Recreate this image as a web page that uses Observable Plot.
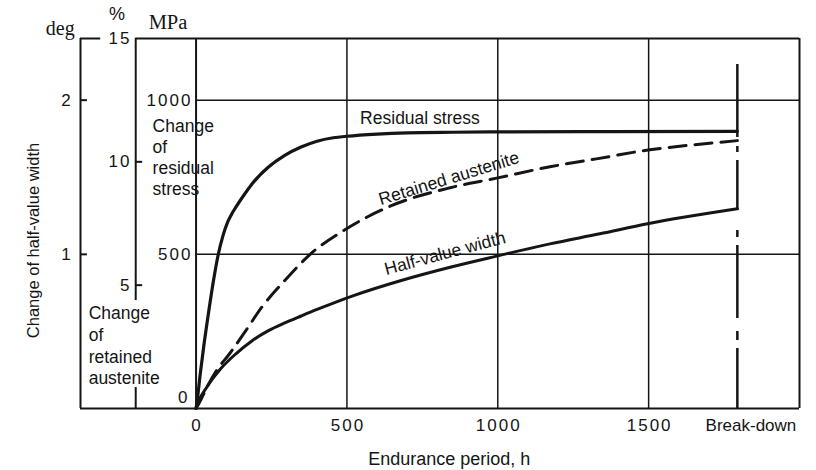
<!DOCTYPE html>
<html>
<head>
<meta charset="utf-8">
<script src="https://cdn.jsdelivr.net/npm/d3@7"></script>
<script src="https://cdn.jsdelivr.net/npm/@observablehq/plot@0.6"></script>
<style>
  html, body { margin: 0; padding: 0; background: #fff; }
  #chart svg { display: block; }
  svg g[aria-description="num-tick"] text { letter-spacing: 2px; }
</style>
</head>
<body>
<div id="chart"></div>
<script>
// ---------- data ----------
// Residual stress, MPa
const residualHours = [0, 5, 14, 25, 41, 57, 73, 89, 105, 120, 132, 160, 186, 240, 294, 348, 401, 455, 500, 600, 700, 850, 1000, 1300, 1794];
const residualMPa   = [0, 36, 113, 198, 308, 410, 497, 560, 605, 634, 653, 694, 729, 783, 821, 848, 867, 878, 883, 890, 894, 896, 897, 898, 899];

// Retained austenite, %
const austeniteHours = [0, 9, 36, 68, 111, 165, 218, 294, 380, 487, 643, 842, 1000, 1173, 1327, 1504, 1625, 1794];
const austenitePct   = [0, 0.19, 0.86, 1.54, 2.22, 3.16, 4.11, 5.19, 6.27, 7.2, 8.2, 8.95, 9.35, 9.8, 10.12, 10.49, 10.66, 10.86];

// Half-value width, deg
const halfHours = [0, 3, 36, 78, 132, 186, 240, 294, 348, 401, 455, 522, 680, 842, 1000, 1173, 1338, 1496, 1794];
const halfDeg   = [0, 0.02, 0.14, 0.25, 0.355, 0.44, 0.505, 0.555, 0.60, 0.643, 0.684, 0.732, 0.83, 0.916, 0.99, 1.068, 1.133, 1.198, 1.295];

// axes / ticks
const xTicks = [0, 500, 1000, 1500];
const breakdownHour = 1794;
const breakdownLabel = "Break-down";
const mpaTicks = [500, 1000];
const pctTicks = [5, 10, 15];
const degTicks = [1, 2];

// ---------- tables ----------
const residual  = residualHours.map((h, i) => ({h, v: residualMPa[i]}));
const austenite = austeniteHours.map((h, i) => ({h, v: austenitePct[i]}));
const halfWidth = halfHours.map((h, i) => ({h, v: halfDeg[i]}));

// secondary y axes expressed on the primary (MPa) scale
const pctToMPa = d3.scaleLinear().domain([0, 15]).range([0, 1200]);
const degToMPa = d3.scaleLinear().domain([0, 2.4]).range([0, 1200]);

const SANS = "'Liberation Sans', Arial, Helvetica, sans-serif";
const SERIF = "'Liberation Serif', 'Times New Roman', serif";
const INK = "#151515";

const X_LEFT = -383, X_RIGHT = 2000, X_PCT = -200;

const chart = Plot.plot({
  width: 816,
  height: 470,
  marginLeft: 80,
  marginRight: 17,
  marginTop: 38,
  marginBottom: 62,
  style: {background: "#fff", fontFamily: SANS, color: INK, overflow: "visible"},
  x: {domain: [X_LEFT, X_RIGHT], axis: null},
  y: {domain: [0, 1200], axis: null},
  marks: [
    // grid
    Plot.ruleX(xTicks.filter(d => d > 0), {y1: 0, y2: 1200, stroke: INK, strokeWidth: 1.5}),
    Plot.ruleY(mpaTicks, {x1: 0, x2: X_RIGHT, stroke: INK, strokeWidth: 1.5}),
    // MPa axis (x = 0)
    Plot.ruleX([0], {y1: 0, y2: 1200, stroke: INK, strokeWidth: 2}),
    // frame
    Plot.ruleX([X_RIGHT], {y1: 0, y2: 1200, stroke: INK, strokeWidth: 2}),
    Plot.ruleX([X_LEFT], {y1: 0, y2: 1200, stroke: INK, strokeWidth: 2}),
    Plot.ruleY([0], {x1: X_LEFT, x2: X_RIGHT, stroke: INK, strokeWidth: 2}),
    Plot.ruleY([1200], {x1: X_PCT, x2: X_RIGHT, stroke: INK, strokeWidth: 2}),
    Plot.ruleY([1200], {x1: X_LEFT, x2: -316, stroke: INK, strokeWidth: 2}),
    // % axis (broken for its label)
    Plot.ruleX([X_PCT], {y1: 350, y2: 1200, stroke: INK, strokeWidth: 2}),
    Plot.ruleX([X_PCT], {y1: 0, y2: 68, stroke: INK, strokeWidth: 2}),
    Plot.ruleY(pctTicks.filter(d => d < 15).map(pctToMPa), {x1: X_PCT, x2: -177, stroke: INK, strokeWidth: 2}),
    // deg axis ticks
    Plot.ruleY(degTicks.map(degToMPa), {x1: X_LEFT, x2: -360, stroke: INK, strokeWidth: 2}),

    // break-down line (dash-dot)
    Plot.ruleX([breakdownHour], {y1: 0, y2: 1116, stroke: INK, strokeWidth: 2.5,
      strokeDasharray: "60,8,9,13,73,8,7,20,50,8,6,9,80"}),

    // curves
    Plot.line(residual, {x: "h", y: "v", stroke: INK, strokeWidth: 3.2, curve: "monotone-x"}),
    Plot.line(austenite, {x: "h", y: d => pctToMPa(d.v), stroke: INK, strokeWidth: 3, strokeDasharray: "17,9", curve: "monotone-x"}),
    Plot.line(halfWidth, {x: "h", y: d => degToMPa(d.v), stroke: INK, strokeWidth: 3, curve: "monotone-x"}),

    // tick labels
    Plot.text(xTicks, {x: d => d, y: -55, text: d => String(d), dx: 1, fontSize: 17, fill: INK, ariaDescription: "num-tick"}),
    Plot.text([breakdownLabel], {x: 1839, y: -55, text: d => d, fontSize: 17, fill: INK}),
    Plot.text(mpaTicks, {x: -12, y: d => d, text: d => String(d), textAnchor: "end", fontSize: 17, fill: INK, ariaDescription: "num-tick"}),
    Plot.text([0], {x: -22, y: 37, text: d => String(d), textAnchor: "end", fontSize: 17, fill: INK, ariaDescription: "num-tick"}),
    Plot.text(pctTicks, {x: -214, y: d => pctToMPa(d), text: d => String(d), textAnchor: "end", fontSize: 17, fill: INK, ariaDescription: "num-tick"}),
    Plot.text(degTicks, {x: -409, y: d => degToMPa(d), text: d => String(d), textAnchor: "end", fontSize: 17, fill: INK, ariaDescription: "num-tick"}),

    // unit labels
    Plot.text(["deg"], {x: -450, y: 1232, text: d => d, fontFamily: SERIF, fontSize: 20, fill: INK}),
    Plot.text(["MPa"], {x: -93, y: 1252, text: d => d, fontFamily: SERIF, fontSize: 20.5, fill: INK}),
    Plot.text(["%"], {x: -262, y: 1280, text: d => d, fontSize: 18, fill: INK}),

    // axis titles
    Plot.text(["Change of half-value width"], {x: -538, y: 545, text: d => d, rotate: -90, fontSize: 16.5, fill: INK}),
    Plot.text(["Endurance period, h"], {x: 839, y: -164, text: d => d, fontSize: 18, fill: INK}),
    Plot.text(["Change\nof\nresidual\nstress"], {x: -144, y: 816, text: d => d, textAnchor: "start", lineHeight: 1.2, fontSize: 17.5, fill: INK}),
    Plot.text(["Change\nof\nretained\naustenite"], {x: -356, y: 206, text: d => d, textAnchor: "start", lineHeight: 1.24, fontSize: 17.5, fill: INK}),

    // series labels
    Plot.text(["Residual stress"], {x: 742, y: 941, text: d => d, fontSize: 17.5, fill: INK}),
    Plot.text(["Retained austenite"], {x: 838, y: 746, text: d => d, rotate: -17, fontSize: 17.5, fill: INK}),
    Plot.text(["Half-value width"], {x: 825, y: 503, text: d => d, rotate: -15, fontSize: 17.5, fill: INK})
  ]
});

document.getElementById("chart").appendChild(chart);
</script>
</body>
</html>
